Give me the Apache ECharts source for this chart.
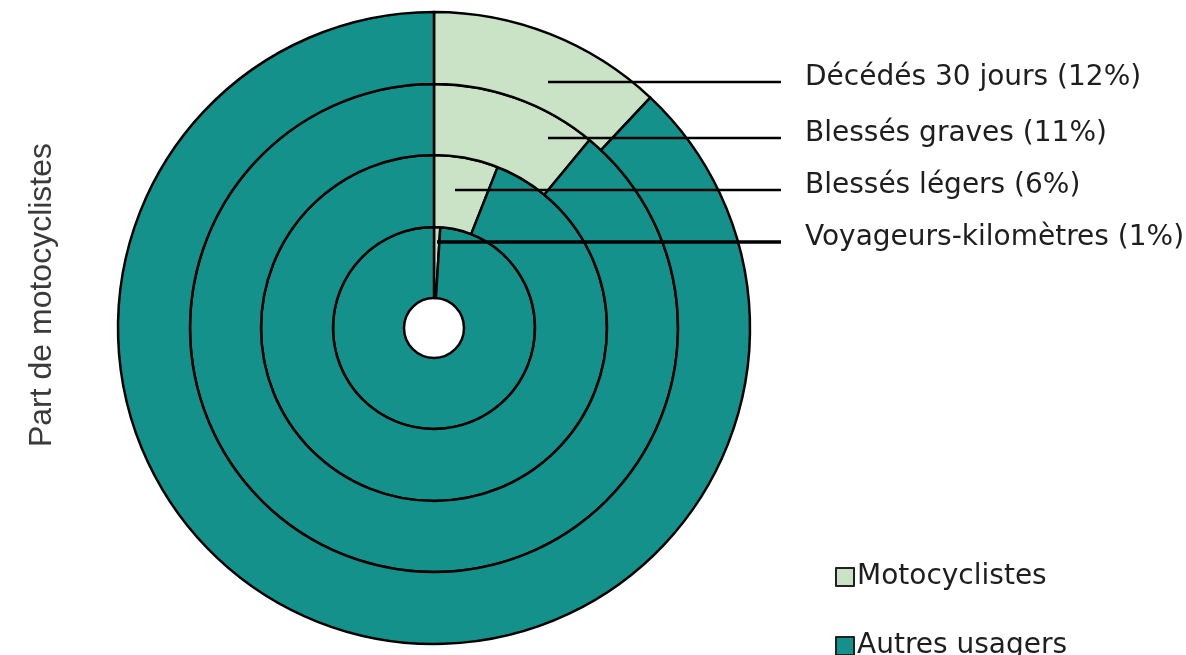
<!DOCTYPE html>
<html><head><meta charset="utf-8">
<script src="https://cdn.jsdelivr.net/npm/echarts@6/dist/echarts.min.js"></script>
<style>html,body{margin:0;padding:0;background:#fff}#c{width:1186px;height:655px}</style>
</head><body><div id="c"></div>
<script>
// Data
const rings = ['Voyageurs-kilomètres', 'Blessés légers', 'Blessés graves', 'Décédés 30 jours'];
const motoShare = [1, 6, 11, 12];
const categories = ['Motocyclistes', 'Autres usagers'];
const axisTitle = 'Part de motocyclistes';

// Layout (styles/positions)
const CENTER = [434, 328];
const radii = [[30, 101], [101, 173], [173, 244], [244, 316]];
const labelYs = [242, 190, 138, 82];
const lineStartX = [437, 455, 548, 548];
const lineEndX = 781;
const textX = 805;
const LIGHT = '#cae3c6';
const DARK = '#14918a';

const chart = echarts.init(document.getElementById('c'));

// Visible rings
const ringSeries = rings.map((name, i) => ({
  type: 'pie',
  name: name,
  z: 2,
  center: CENTER,
  radius: radii[i],
  startAngle: 90,
  clockwise: true,
  silent: true,
  animation: false,
  itemStyle: { borderColor: '#000', borderWidth: 2.5 },
  emphasis: { disabled: true },
  label: { show: false },
  labelLine: { show: false },
  data: [
    { name: categories[0], value: motoShare[i], itemStyle: { color: LIGHT } },
    { name: categories[1], value: 100 - motoShare[i], itemStyle: { color: DARK } }
  ]
}));

// Transparent overlay rings carrying the labels and leader lines on top
const labelSeries = rings.map((name, i) => ({
  type: 'pie',
  name: name + ' (libellé)',
  z: 20,
  center: CENTER,
  radius: radii[i],
  startAngle: 90,
  clockwise: true,
  silent: true,
  animation: false,
  avoidLabelOverlap: false,
  legendHoverLink: false,
  itemStyle: { color: 'rgba(0,0,0,0)', borderWidth: 0 },
  emphasis: { disabled: true },
  label: { show: false },
  labelLine: { show: false },
  data: [
    {
      name: 'lbl-moto', value: motoShare[i],
      label: {
        show: true, position: 'outside',
        formatter: name + ' (' + motoShare[i] + '%)',
        fontFamily: 'DejaVu Sans', fontSize: 28, color: '#1e1e1e'
      },
      labelLine: { show: true, lineStyle: { color: '#000', width: i === 0 ? 3.5 : 2.5 } }
    },
    { name: 'lbl-other', value: 100 - motoShare[i] }
  ],
  labelLayout: function (p) {
    const y = labelYs[i];
    return {
      x: textX, y: y - 4, align: 'left', verticalAlign: 'middle',
      labelLinePoints: [[lineStartX[i], y], [lineEndX, y], [lineEndX, y]]
    };
  }
}));

const legendCommon = {
  orient: 'vertical',
  left: 830,
  itemWidth: 18, itemHeight: 18,
  icon: 'rect',
  itemStyle: { borderColor: '#222', borderWidth: 2 },
  textStyle: { fontFamily: 'DejaVu Sans', fontSize: 28, color: '#1e1e1e', padding: [0, 0, 0, -2] },
  selectedMode: false
};

chart.setOption({
  animation: false,
  legend: [
    Object.assign({ data: [categories[0]], top: 558 }, legendCommon),
    Object.assign({ data: [categories[1]], top: 627 }, legendCommon)
  ],
  graphic: [{
    type: 'text', x: 42, y: 295, rotation: Math.PI / 2,
    style: { text: axisTitle, fontFamily: 'Liberation Sans', fontSize: 32, fill: '#3a3a3a', align: 'center', verticalAlign: 'middle' }
  }],
  series: ringSeries.concat(labelSeries)
});
</script></body></html>
